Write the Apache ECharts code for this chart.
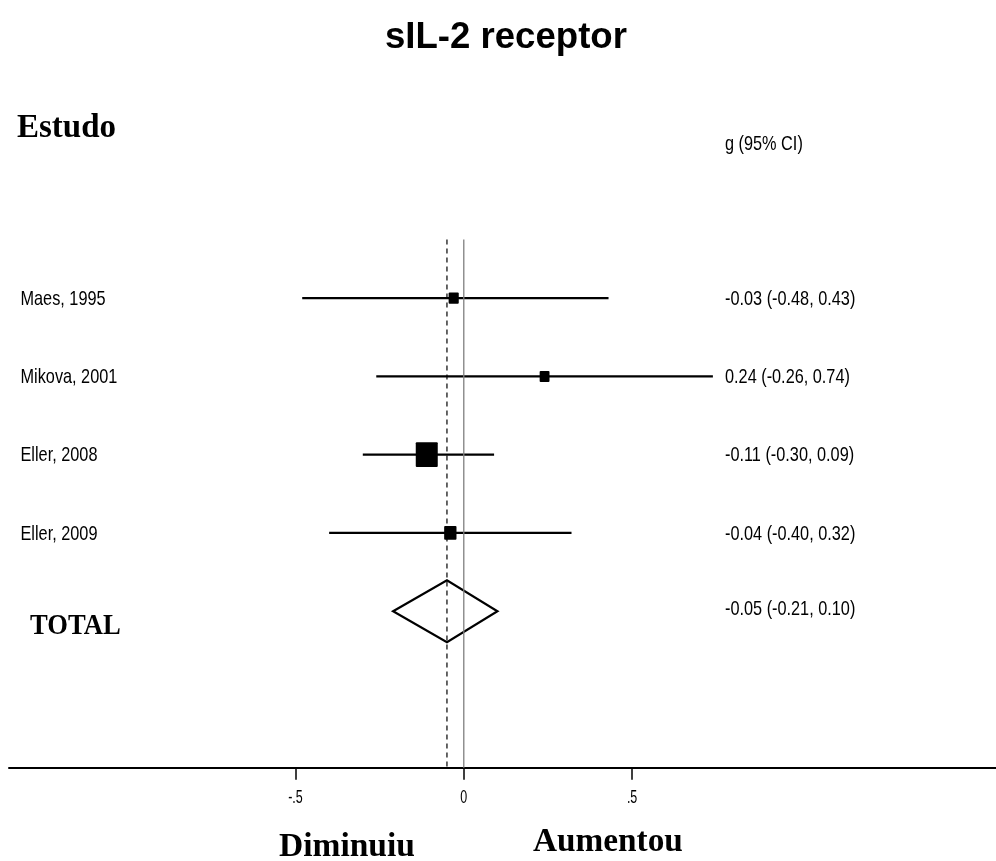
<!DOCTYPE html>
<html>
<head>
<meta charset="utf-8">
<script src="https://cdn.jsdelivr.net/npm/echarts@6/dist/echarts.min.js"></script>
<style>
  html, body { margin: 0; padding: 0; background: #fff; }
  #chart { width: 996px; height: 861px; }
</style>
</head>
<body>
<div id="chart"></div>
<script>
// Study-level results (Hedges' g with 95% CI) and relative weights (%)
const studies = ['Maes, 1995', 'Mikova, 2001', 'Eller, 2008', 'Eller, 2009'];
const effect = [-0.03, 0.24, -0.11, -0.04];
const ciLow = [-0.48, -0.26, -0.30, -0.40];
const ciHigh = [0.43, 0.74, 0.09, 0.32];
const weights = [12.3, 11.6, 57.9, 18.2];

// Pooled estimate
const pooledLabel = 'TOTAL';
const pooledEffect = -0.05;
const pooledLow = -0.21;
const pooledHigh = 0.10;

// Axis ticks
const tickValues = [-0.5, 0, 0.5];
const tickLabels = ['-.5', '0', '.5'];

const SANS = "'Liberation Sans', Arial, sans-serif";
const SERIF = "'Liberation Serif', 'Times New Roman', serif";
const TEXT_STRETCH = 1.2;   // the small labels are set tall and narrow

const fmt = v => v.toFixed(2);
const ciText = (g, lo, hi) => fmt(g) + ' (' + fmt(lo) + ', ' + fmt(hi) + ')';

function smallText(x, y, text) {
  return {
    type: 'text', x: x, y: y, scaleY: TEXT_STRETCH,
    style: { text: text, x: 0, y: 0, fill: '#000', fontSize: 16.3, fontFamily: SANS,
             align: 'left', verticalAlign: 'middle' }
  };
}

const chart = echarts.init(document.getElementById('chart'));

const option = {
  backgroundColor: '#fff',
  animation: false,
  grid: { left: 9, right: 0, top: 239.5, bottom: 93.3, containLabel: false, outerBoundsMode: 'none' },
  xAxis: {
    type: 'value', min: -1.351, max: 1.581,
    splitLine: { show: false },
    axisLine: { show: true, onZero: false, lineStyle: { color: '#000', width: 2 } },
    axisTick: { show: true, customValues: tickValues, length: 12, lineStyle: { color: '#000', width: 1.5 } },
    axisLabel: { show: false }
  },
  yAxis: { type: 'value', inverse: true, min: -0.75, max: 6, show: false },
  graphic: [
    { type: 'text', left: 385, top: 19,
      style: { text: 'sIL-2 receptor', fill: '#000', fontSize: 36.6, fontWeight: 'bold', fontFamily: SANS } },
    { type: 'text', x: 17, y: 128,
      style: { text: 'Estudo', fill: '#000', fontSize: 33, fontWeight: 'bold', fontFamily: SERIF,
               align: 'left', verticalAlign: 'middle' } },
    { type: 'text', x: 725, y: 145, scaleY: TEXT_STRETCH,
      style: { text: 'g (95% CI)', fill: '#000', fontSize: 16.3, fontFamily: SANS,
               align: 'left', verticalAlign: 'middle' } },
    { type: 'text', x: 279, y: 847,
      style: { text: 'Diminuiu', fill: '#000', fontSize: 33.5, fontWeight: 'bold', fontFamily: SERIF,
               align: 'left', verticalAlign: 'middle' } },
    { type: 'text', x: 533, y: 842,
      style: { text: 'Aumentou', fill: '#000', fontSize: 33.3, fontWeight: 'bold', fontFamily: SERIF,
               align: 'left', verticalAlign: 'middle' } }
  ],
  series: [
    // line of no effect
    {
      type: 'line', data: [[0, -0.75], [0, 6]], symbol: 'none', silent: true,
      lineStyle: { color: '#7f7f7f', width: 1.3 }
    },
    // pooled estimate reference
    {
      type: 'line', data: [[pooledEffect, -0.75], [pooledEffect, 6]], symbol: 'none', silent: true,
      lineStyle: { color: '#000', width: 1.2, type: [5, 4] }
    },
    // tick labels under the axis, drawn tall and narrow like the other small text
    {
      type: 'custom', silent: true,
      data: tickValues.map((v, i) => [v, i]),
      renderItem: function (params, api) {
        const p = api.coord([api.value(0), 6]);
        return {
          type: 'text', x: p[0], y: p[1] + 30, scaleY: 1.4,
          style: { text: tickLabels[params.dataIndex], x: 0, y: 0, fill: '#000', fontSize: 12.5,
                   fontFamily: SANS, align: 'center', verticalAlign: 'middle' }
        };
      }
    },
    // individual studies
    {
      type: 'custom',
      data: studies.map((s, i) => [effect[i], i, ciLow[i], ciHigh[i], weights[i]]),
      renderItem: function (params, api) {
        const i = params.dataIndex;
        const y = api.coord([0, api.value(1)])[1];
        const xg = api.coord([api.value(0), 0])[0];
        const xl = api.coord([api.value(2), 0])[0];
        const xh = api.coord([api.value(3), 0])[0];
        const side = 2.891 * Math.sqrt(api.value(4));
        const h = side * 1.12;
        return {
          type: 'group',
          children: [
            { type: 'line', shape: { x1: xl, y1: y, x2: xh, y2: y },
              style: { stroke: '#000', lineWidth: 2.2 } },
            { type: 'rect', shape: { x: xg - side / 2, y: y - h / 2, width: side, height: h, r: 1 },
              style: { fill: '#000' } },
            smallText(20.5, y + 1.3, studies[i]),
            smallText(725, y + 1.3, ciText(effect[i], ciLow[i], ciHigh[i]))
          ]
        };
      }
    },
    // pooled diamond
    {
      type: 'custom',
      data: [[pooledEffect, studies.length, pooledLow, pooledHigh]],
      renderItem: function (params, api) {
        const y = api.coord([0, api.value(1)])[1];
        const xg = api.coord([api.value(0), 0])[0];
        const xl = api.coord([api.value(2), 0])[0];
        const xh = api.coord([api.value(3), 0])[0];
        const hh = 31;
        return {
          type: 'group',
          children: [
            { type: 'polygon', shape: { points: [[xl, y], [xg, y - hh], [xh, y], [xg, y + hh]] },
              style: { fill: 'none', stroke: '#000', lineWidth: 2.2, lineJoin: 'miter' } },
            { type: 'text', x: 30, y: y + 15, scaleY: 1.14,
              style: { text: pooledLabel, x: 0, y: 0, fill: '#000', fontSize: 26.6, fontWeight: 'bold',
                       fontFamily: SERIF, align: 'left', verticalAlign: 'middle' } },
            smallText(725, y - 2, ciText(pooledEffect, pooledLow, pooledHigh))
          ]
        };
      }
    }
  ]
};

chart.setOption(option);
</script>
</body>
</html>
